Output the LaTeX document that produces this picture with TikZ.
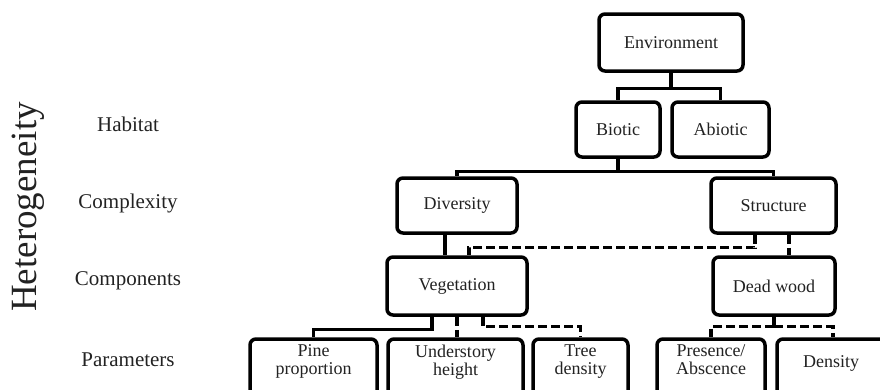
\documentclass[tikz,border=0pt]{standalone}
\usepackage{fontspec}
\setmainfont{Liberation Serif}
\usetikzlibrary{calc}
\definecolor{inkgray}{HTML}{222222}

\begin{document}
\begin{tikzpicture}[x=1pt, y=-1pt,
  box/.style={draw=black, line width=3.5pt, rounded corners=6pt, fill=white, align=center, text=inkgray, font=\fontsize{18}{18}\selectfont, inner sep=2pt, minimum height=55pt},
  leafbox/.style={box, minimum height=60pt, text depth=18pt},
  link/.style={draw=black, line width=3.2pt},
  dlink/.style={link, dash pattern=on 9pt off 4pt},
  lvl/.style={anchor=base, text=inkgray, font=\fontsize{21}{24}\selectfont}]
\useasboundingbox (0,0) rectangle (880,389);
\node[rotate=90, text=inkgray, font=\fontsize{37}{40}\selectfont] (het) at (28,207) {Heterogeneity};
\node[lvl] (habitat) at (128,131) {Habitat};
\node[lvl] (complexity) at (128,208) {Complexity};
\node[lvl] (components) at (128,285) {Components};
\node[lvl] (parameters) at (128,366) {Parameters};
\node[box, minimum width=144pt, minimum height=57pt] (env) at (671,42.5) {Environment};
\node[box, minimum width=84pt] (bio) at (618,129.5) {Biotic};
\node[box, minimum width=97pt] (abio) at (720.5,129.5) {Abiotic};
\node[box, minimum width=120pt] (div) at (457,205.5) {Diversity};
\node[box, minimum width=125pt] (str) at (773.5,205.5) {Structure};
\node[box, minimum width=140pt, minimum height=58pt] (veg) at (457,286) {Vegetation};
\node[box, minimum width=122pt, minimum height=58pt] (dw) at (774,286) {Dead wood};
\node[leafbox, minimum width=127pt] (pine) at (313.5,369) {Pine\\proportion};
\node[leafbox, minimum width=135pt] (und) at (455.5,369) {Understory\\height};
\node[leafbox, minimum width=95pt] (tree) at (580.5,369) {Tree\\density};
\node[leafbox, minimum width=108pt] (pres) at (711,369) {Presence/\\Abscence};
\node[leafbox, minimum width=108pt, text depth=14pt] (dens) at (831,369) {Density};
\draw[link] (env.south) -- ++(0,16) -| (bio.north);
\draw[link] (env.south) -- ++(0,16) -| (abio.north);
\draw[link] (bio.south) -- ++(0,13) -| (div.north);
\draw[link] (bio.south) -- ++(0,13) -| (str.north);
\draw[link] ([xshift=-12pt]div.south) -- ([xshift=-12pt]veg.north);
\draw[dlink] ([xshift=-18.5pt]str.south) -- ++(0,13) -| ([xshift=12pt]veg.north);
\draw[dlink] ([xshift=15.5pt]str.south) -- ([xshift=15pt]dw.north);
\draw[link] ([xshift=-25pt]veg.south) -- ++(0,13) -| (pine.north);
\draw[dlink] (veg.south) -- (veg.south |- und.north);
\draw[dlink] ([xshift=26pt]veg.south) -- ++(0,10) -| (tree.north);
\draw[link] (dw.south) -- ++(0,10) coordinate (dwfork);
\draw[dlink] (dwfork) -| (pres.north);
\draw[dlink] (dwfork) -| ([xshift=2pt]dens.north);
\end{tikzpicture}
\end{document}
